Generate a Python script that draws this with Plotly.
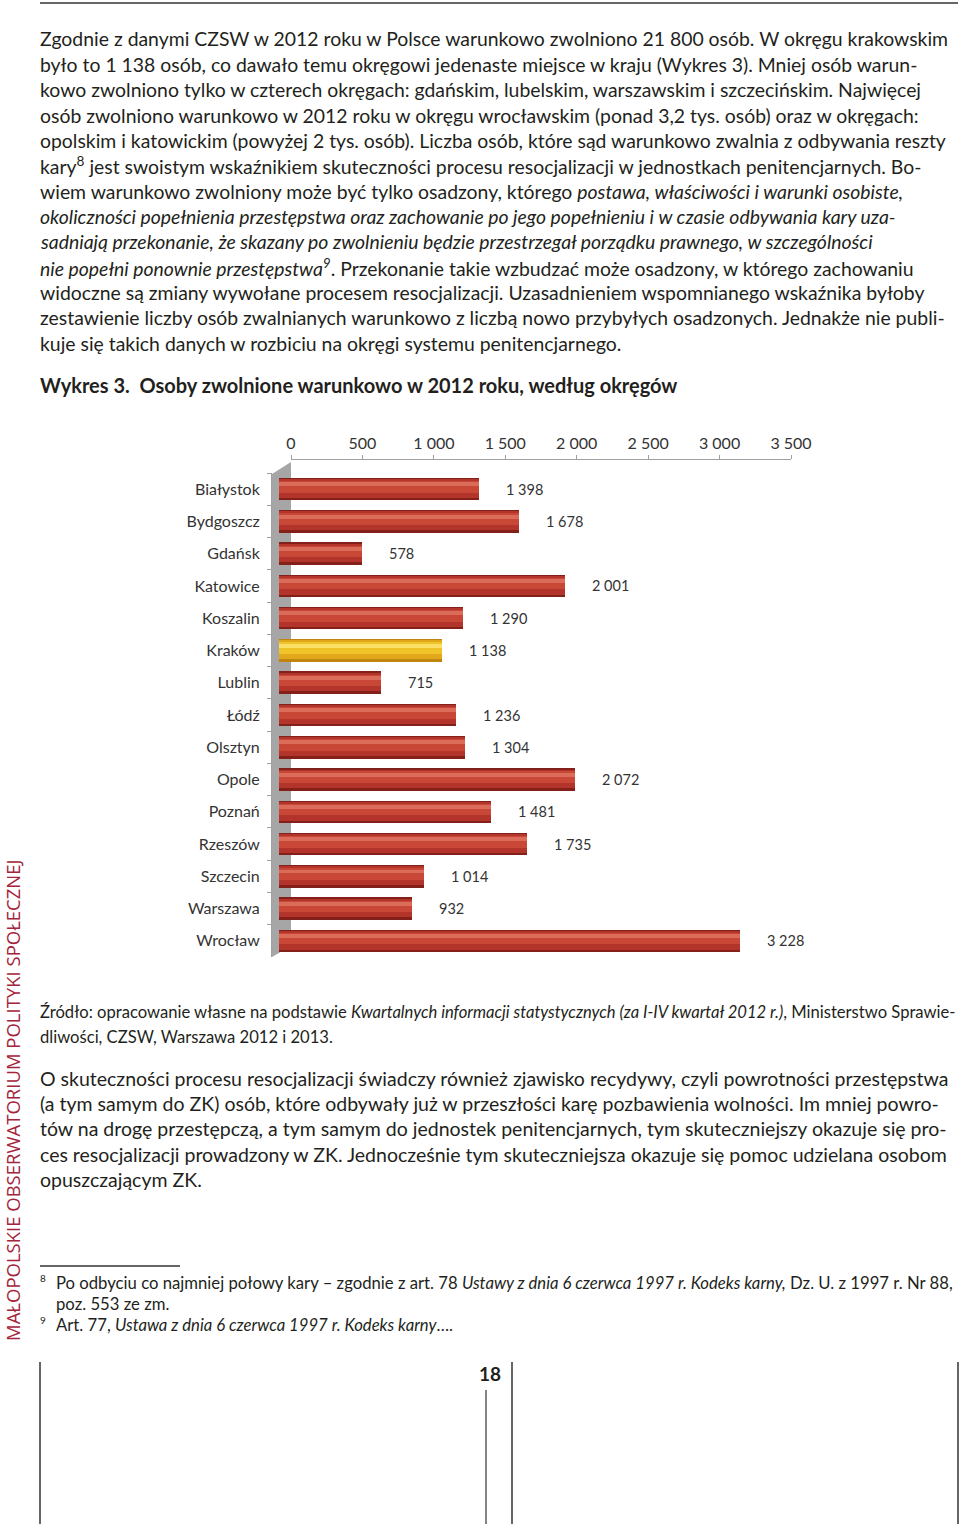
import plotly.graph_objects as go

# ---------------- data ----------------
categories = ["Białystok", "Bydgoszcz", "Gdańsk", "Katowice", "Koszalin", "Kraków",
              "Lublin", "Łódź", "Olsztyn", "Opole", "Poznań", "Rzeszów", "Szczecin",
              "Warszawa", "Wrocław"]
values = [1398, 1678, 578, 2001, 1290, 1138, 715, 1236, 1304, 2072, 1481, 1735, 1014, 932, 3228]
tick_values = [0, 500, 1000, 1500, 2000, 2500, 3000, 3500]
tick_labels = ["0", "500", "1 000", "1 500", "2 000", "2 500", "3 000", "3 500"]
highlight = "Kraków"

title_text = "<b>Wykres 3.  Osoby zwolnione warunkowo w 2012 roku, według okręgów</b>"
para1 = [
    "Zgodnie z danymi CZSW w 2012 roku w Polsce warunkowo zwolniono 21 800 osób. W okręgu krakowskim",
    "było to 1 138 osób, co dawało temu okręgowi jedenaste miejsce w kraju (Wykres 3). Mniej osób warun-",
    "kowo zwolniono tylko w czterech okręgach: gdańskim, lubelskim, warszawskim i szczecińskim. Najwięcej",
    "osób zwolniono warunkowo w 2012 roku w okręgu wrocławskim (ponad 3,2 tys. osób) oraz w okręgach:",
    "opolskim i katowickim (powyżej 2 tys. osób). Liczba osób, które sąd warunkowo zwalnia z odbywania reszty",
    "kary<sup>8</sup> jest swoistym wskaźnikiem skuteczności procesu resocjalizacji w jednostkach penitencjarnych. Bo-",
    "wiem warunkowo zwolniony może być tylko osadzony, którego <i>postawa, właściwości i warunki osobiste,</i>",
    "<i>okoliczności popełnienia przestępstwa oraz zachowanie po jego popełnieniu i w czasie odbywania kary uza-</i>",
    "<i>sadniają przekonanie, że skazany po zwolnieniu będzie przestrzegał porządku prawnego, w szczególności</i>",
    "<i>nie popełni ponownie przestępstwa<sup>9</sup></i>. Przekonanie takie wzbudzać może osadzony, w którego zachowaniu",
    "widoczne są zmiany wywołane procesem resocjalizacji. Uzasadnieniem wspomnianego wskaźnika byłoby",
    "zestawienie liczby osób zwalnianych warunkowo z liczbą nowo przybyłych osadzonych. Jednakże nie publi-",
    "kuje się takich danych w rozbiciu na okręgi systemu penitencjarnego.",
]
source_lines = [
    "Źródło: opracowanie własne na podstawie <i>Kwartalnych informacji statystycznych (za I-IV kwartał 2012 r.)</i>, Ministerstwo Sprawie-",
    "dliwości, CZSW, Warszawa 2012 i 2013.",
]
para2 = [
    "O skuteczności procesu resocjalizacji świadczy również zjawisko recydywy, czyli powrotności przestępstwa",
    "(a tym samym do ZK) osób, które odbywały już w przeszłości karę pozbawienia wolności. Im mniej powro-",
    "tów na drogę przestępczą, a tym samym do jednostek penitencjarnych, tym skuteczniejszy okazuje się pro-",
    "ces resocjalizacji prowadzony w ZK. Jednocześnie tym skuteczniejsza okazuje się pomoc udzielana osobom",
    "opuszczającym ZK.",
]
footnote_marks = ["8", "", "9"]
footnote_lines = [
    "Po odbyciu co najmniej połowy kary – zgodnie z art. 78 <i>Ustawy z dnia 6 czerwca 1997 r. Kodeks karny,</i> Dz. U. z 1997 r. Nr 88,",
    "poz. 553 ze zm.",
    "Art. 77, <i>Ustawa z dnia 6 czerwca 1997 r. Kodeks karny</i>….",
]
sidebar_text = "MAŁOPOLSKIE OBSERWATORIUM POLITYKI SPOŁECZNEJ"
page_number = "18"

# ---------------- layout helpers ----------------
W, H = 960, 1524
FONT = "Lato"
TXT = "#231f20"


def px(x):
    return x / W


def py(y):
    return 1 - y / H


fig = go.Figure()

# cylinder-like bars made of overlaid bands (width, offset, red, gold)
bands = [
    (0.70, -0.35, "#84201a", "#c08410"),
    (0.58, -0.31, "#b3342a", "#e0a81a"),
    (0.36, -0.25, "#c84737", "#f0c428"),
    (0.12, -0.21, "#dc6c5a", "#fae066"),
]
for w, off, red, gold in bands:
    fig.add_trace(go.Bar(
        y=categories, x=values, orientation="h", width=w, offset=off,
        marker=dict(color=[gold if c == highlight else red for c in categories], line_width=0),
        xaxis="x", yaxis="y", hoverinfo="skip", showlegend=False,
    ))

# invisible helper trace for the visible top value axis
fig.add_trace(go.Scatter(x=[tick_values[0], tick_values[-1]], y=[categories[0], categories[0]],
                         xaxis="x2", yaxis="y", mode="lines",
                         line=dict(width=0), opacity=0, hoverinfo="skip", showlegend=False))

annotations = []
# value labels
for c, v in zip(categories, values):
    annotations.append(dict(
        x=v, y=c, xref="x2", yref="y", text=f"{v:,}".replace(",", " "),
        showarrow=False, xanchor="left", yanchor="middle", xshift=13,
        font=dict(family=FONT, size=14.5, color="#333333")))

# body text
line_h = 25.35
X0 = px(38)
for i, t in enumerate(para1):
    annotations.append(dict(x=X0, y=py(39 + i * line_h), xref="paper", yref="paper",
                            text=t, showarrow=False, xanchor="left", yanchor="middle",
                            font=dict(family=FONT, size=19.4, color=TXT)))
annotations.append(dict(x=X0, y=py(385), xref="paper", yref="paper", text=title_text,
                        showarrow=False, xanchor="left", yanchor="middle",
                        font=dict(family=FONT, size=20, color=TXT)))
for i, t in enumerate(source_lines):
    annotations.append(dict(x=X0, y=py(1012 + i * 25), xref="paper", yref="paper",
                            text=t, showarrow=False, xanchor="left", yanchor="middle",
                            font=dict(family=FONT, size=16.6, color=TXT)))
for i, t in enumerate(para2):
    annotations.append(dict(x=X0, y=py(1078 + i * line_h), xref="paper", yref="paper",
                            text=t, showarrow=False, xanchor="left", yanchor="middle",
                            font=dict(family=FONT, size=19.5, color=TXT)))
fy = [1283, 1304, 1325]
for mark, t, yv in zip(footnote_marks, footnote_lines, fy):
    if mark:
        annotations.append(dict(x=px(38), y=py(yv - 5), xref="paper", yref="paper",
                                text=mark, showarrow=False, xanchor="left", yanchor="middle",
                                font=dict(family=FONT, size=10, color=TXT)))
    annotations.append(dict(x=px(54), y=py(yv), xref="paper", yref="paper",
                            text=t, showarrow=False, xanchor="left", yanchor="middle",
                            font=dict(family=FONT, size=16.7, color=TXT)))
annotations.append(dict(x=px(490), y=py(1373), xref="paper", yref="paper", text=f"<b>{page_number}</b>",
                        showarrow=False, xanchor="center", yanchor="middle",
                        font=dict(family=FONT, size=19, color=TXT)))
annotations.append(dict(x=px(12), y=py(1100), xref="paper", yref="paper", text=sidebar_text,
                        textangle=-90, showarrow=False, xanchor="center", yanchor="middle",
                        font=dict(family="Open Sans", size=18.5, color="#a3243b")))

shapes = [
    # 3D wall on the left of the plot
    dict(type="path", xref="paper", yref="paper",
         path=f"M {px(272)},{py(474)} L {px(291)},{py(462)} L {px(291)},{py(946)} L {px(272)},{py(957)} Z",
         fillcolor="#a6a6a6", line=dict(width=0), layer="below"),
    # page rules
    dict(type="line", xref="paper", yref="paper", x0=px(40), x1=px(958), y0=py(3), y1=py(3),
         line=dict(color="#333333", width=1.5)),
    dict(type="line", xref="paper", yref="paper", x0=px(40), x1=px(180), y0=py(1266), y1=py(1266),
         line=dict(color="#333333", width=1.5)),
    dict(type="line", xref="paper", yref="paper", x0=px(40), x1=px(40), y0=py(1362), y1=py(1524),
         line=dict(color="#333333", width=1.5)),
    dict(type="line", xref="paper", yref="paper", x0=px(486), x1=px(486), y0=py(1390), y1=py(1524),
         line=dict(color="#333333", width=1.2)),
    dict(type="line", xref="paper", yref="paper", x0=px(512), x1=px(512), y0=py(1362), y1=py(1524),
         line=dict(color="#333333", width=1.5)),
    dict(type="line", xref="paper", yref="paper", x0=px(958), x1=px(958), y0=py(1362), y1=py(1524),
         line=dict(color="#333333", width=1.5)),
]

n = len(categories)
fig.update_layout(
    width=W, height=H,
    margin=dict(l=0, r=0, t=0, b=0, pad=0, autoexpand=False),
    paper_bgcolor="white", plot_bgcolor="rgba(0,0,0,0)",
    barmode="overlay", bargap=0,
    xaxis=dict(domain=[px(279), px(779)], range=[0, 3500], visible=False, fixedrange=True,
               automargin=False),
    xaxis2=dict(domain=[px(291), px(791)], range=[0, 3500], anchor="free", position=py(459),
                side="top", tickvals=tick_values, ticktext=tick_labels, automargin=False,
                showline=True, linecolor="#a0a0a0", linewidth=1,
                ticks="outside", ticklen=4, tickcolor="#a0a0a0", showgrid=False, zeroline=False,
                tickfont=dict(family=FONT, size=16, color="#333333")),
    yaxis=dict(domain=[py(957), py(473)], anchor="free", position=px(271), automargin=False,
               categoryorder="array", categoryarray=categories, range=[n - 0.5, -0.5],
               showline=True, linecolor="#a0a0a0", linewidth=1,
               ticks="outside", ticklen=4, tickcolor="#a0a0a0", tickson="boundaries",
               showgrid=False, zeroline=False, ticklabelstandoff=8,
               tickfont=dict(family=FONT, size=16, color="#333333")),
    annotations=annotations,
    shapes=shapes,
    font=dict(family=FONT, color=TXT),
)

fig.write_html(
    "out.html",
    config={"displayModeBar": False},
    post_script=(
        "document.body.style.margin='0';"
        "document.body.style.overflow='hidden';"
        "document.documentElement.style.overflow='hidden';"
    ),
)
